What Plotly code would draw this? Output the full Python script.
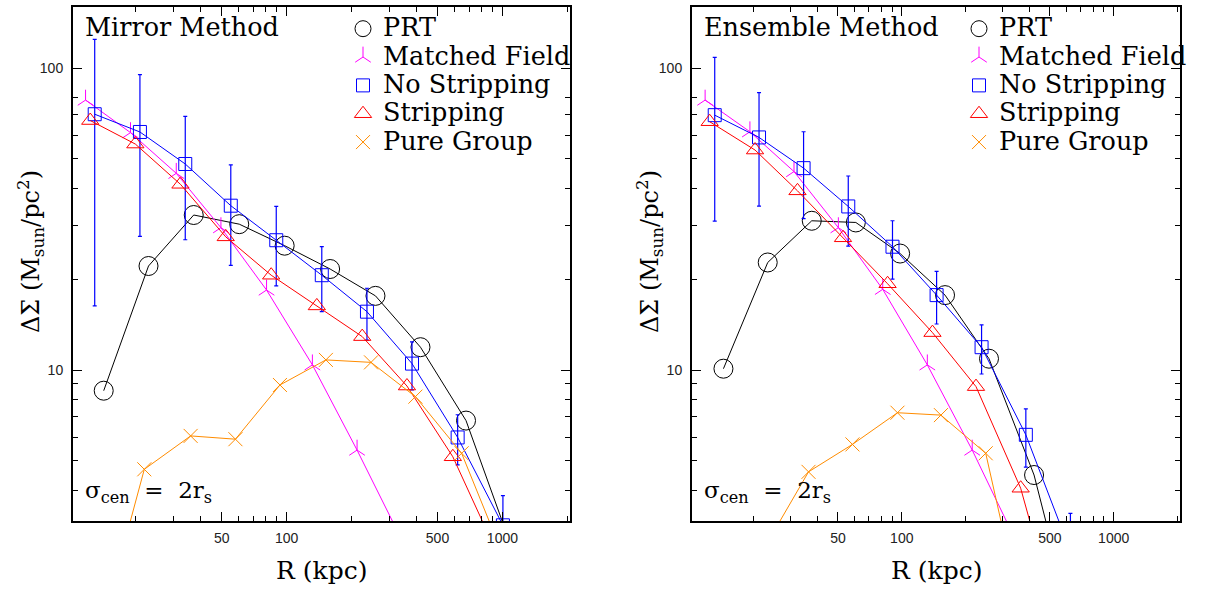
import plotly.graph_objects as go

# ---------------- data ----------------
# Left panel: Mirror Method
R_prt_L = [14.2, 22.9, 37.1, 60.3, 97.9, 159, 258, 417, 678, 1100]
prt_L   = [8.54, 22.1, 32.6, 30.4, 25.8, 21.6, 17.6, 11.9, 6.80, 2.6]

R_mf_L = [11.7, 18.9, 30.8, 49.6, 80.7, 131.6, 212, 345]
mf_L   = [78.3, 61.1, 44.8, 29.6, 18.4, 10.4, 5.43, 2.7]

R_ns_L   = [12.9, 20.9, 33.9, 55.1, 89.5, 145.5, 235.6, 381, 620, 1005]
ns_L     = [70.3, 61.4, 48.1, 35.0, 26.9, 20.6, 15.6, 10.5, 5.98, 3.06]
ns_err_L = [54.0, 33.7, 21.1, 12.8, 7.9, 5.0, 3.05, 1.9, 1.13, 0.78]

R_st_L = [12.3, 19.9, 32.2, 52.2, 84.8, 138, 224, 361, 589, 955]
st_L   = [67.0, 56.0, 41.2, 27.6, 20.6, 16.3, 12.9, 8.85, 5.16, 2.43]

R_pg_L = [13.5, 21.9, 35.9, 57.9, 93.1, 152, 246, 395, 647, 1050]
pg_L   = [1.3, 4.69, 6.05, 5.90, 8.92, 10.8, 10.6, 8.16, 5.30, 2.26]

# Right panel: Ensemble Method
R_prt_R = [14.4, 23.3, 37.6, 60.7, 98.2, 160, 258, 421, 680]
prt_R   = [10.1, 22.7, 31.2, 30.8, 24.3, 17.7, 10.9, 4.49, 1.2]

R_mf_R = [11.8, 19.2, 31.0, 50.2, 81.3, 132, 215, 349]
mf_R   = [78.3, 61.5, 45.4, 29.6, 18.5, 10.4, 5.43, 2.68]

R_ns_R   = [13.1, 21.2, 34.4, 55.9, 90.4, 146, 238, 385, 625]
ns_R     = [69.8, 58.9, 46.6, 34.8, 25.6, 17.7, 11.9, 6.10, 2.51]
ns_err_R = [38.7, 24.0, 14.9, 9.1, 5.6, 3.5, 2.2, 1.33, 0.84]

R_st_R = [12.4, 20.3, 32.2, 52.8, 85.7, 139.6, 224, 364, 590]
st_R   = [66.4, 53.5, 39.2, 27.4, 19.3, 13.3, 8.81, 4.06, 1.2]

R_pg_R = [22.5, 36.3, 58.5, 95.4, 153, 249, 404]
pg_R   = [2.58, 4.60, 5.67, 7.22, 7.09, 5.30, 1.17]

series_names = ["PRT", "Matched Field", "No Stripping", "Stripping", "Pure Group"]
panel_titles = ["Mirror Method", "Ensemble Method"]

x_major = [50, 100, 500, 1000]
x_major_text = ["50", "100", "500", "1000"]
x_minor = [20, 30, 40, 60, 70, 80, 90, 200, 300, 400, 600, 700, 800, 900, 2000]
y_major = [10, 100]
y_major_text = ["10", "100"]
y_minor = [4, 5, 6, 7, 8, 9, 20, 30, 40, 50, 60, 70, 80]

# ---------------- styles ----------------
BLACK, MAG, BLUE, RED, ORANGE = "#000000", "#ff00ff", "#0000ff", "#ff0000", "#ff8c00"
SERIF = "DejaVu Serif"
SANS = "Liberation Sans"
BIG = 25.5  # visible size of legend / panel texts

styles = [
    dict(color=BLACK, symbol="circle-open", size=19),
    dict(color=MAG, symbol="y-up-open", size=13),
    dict(color=BLUE, symbol="square-open", size=13),
    dict(color=RED, symbol="triangle-up-open", size=15),
    dict(color=ORANGE, symbol="x-thin-open", size=14),
]

fig = go.Figure()

panels = [
    ("x", "y", "legend",
     [(R_prt_L, prt_L, None), (R_mf_L, mf_L, None), (R_ns_L, ns_L, ns_err_L),
      (R_st_L, st_L, None), (R_pg_L, pg_L, None)]),
    ("x2", "y2", "legend2",
     [(R_prt_R, prt_R, None), (R_mf_R, mf_R, None), (R_ns_R, ns_R, ns_err_R),
      (R_st_R, st_R, None), (R_pg_R, pg_R, None)]),
]

for xa, ya, leg, data in panels:
    for (xs, ys, err), st, name in zip(data, styles, series_names):
        tr = dict(
            x=xs, y=ys, xaxis=xa, yaxis=ya, mode="lines+markers", name=name,
            showlegend=False,
            line=dict(color=st["color"], width=1),
            marker=dict(symbol=st["symbol"], size=st["size"], color=st["color"],
                        line=dict(color=st["color"], width=1)),
        )
        if err is not None:
            tr["error_y"] = dict(type="data", array=err, visible=True,
                                 color=st["color"], thickness=1.2, width=2)
        fig.add_trace(go.Scatter(**tr))
    # legend-only entries (symbols only, like the reference key)
    for st, name in zip(styles, series_names):
        fig.add_trace(go.Scatter(
            x=[None], y=[None], xaxis=xa, yaxis=ya, mode="markers",
            name=f'<span style="font-size:{BIG}px">{name}</span>',
            legend=leg, showlegend=True,
            marker=dict(symbol=st["symbol"], size=st["size"], color=st["color"],
                        line=dict(color=st["color"], width=1)),
        ))

W, H = 1209, 589
xdom = [[73 / W, 570 / W], [692 / W, 1180 / W]]
ydom = [1 - 521 / H, 1 - 7 / H]

def xaxis_cfg(dom, anchor):
    return dict(
        domain=dom, anchor=anchor, type="log", range=[1.01, 3.313],
        showline=True, linewidth=2, linecolor="black", mirror="allticks",
        showgrid=False, zeroline=False,
        tickmode="array", tickvals=x_major, ticktext=x_major_text,
        ticks="inside", ticklen=9, tickwidth=1, tickcolor="black",
        ticklabelstandoff=3,
        tickfont=dict(family=SANS, size=14, color="#222222"),
        minor=dict(tickmode="array", tickvals=x_minor, ticks="inside",
                   ticklen=5, tickwidth=1, tickcolor="black"),
    )

def yaxis_cfg(anchor):
    return dict(
        domain=ydom, anchor=anchor, type="log", range=[0.5, 2.202],
        showline=True, linewidth=2, linecolor="black", mirror="allticks",
        showgrid=False, zeroline=False,
        tickmode="array", tickvals=y_major, ticktext=y_major_text,
        ticks="inside", ticklen=9, tickwidth=1, tickcolor="black",
        ticklabelstandoff=5,
        tickfont=dict(family=SANS, size=14, color="#222222"),
        minor=dict(tickmode="array", tickvals=y_minor, ticks="inside",
                   ticklen=5, tickwidth=1, tickcolor="black"),
    )

# legend font size sets the row pitch (~28 px); the visible text size comes from the span
leg_common = dict(
    font=dict(family=SERIF, size=19.5, color="black"),
    bgcolor="rgba(0,0,0,0)", borderwidth=0, itemsizing="trace",
    xanchor="left", yanchor="top", tracegroupgap=0, itemwidth=30,
)

fig.update_layout(
    width=W, height=H, margin=dict(l=0, r=0, t=0, b=0),
    paper_bgcolor="white", plot_bgcolor="white",
    xaxis=xaxis_cfg(xdom[0], "y"),
    xaxis2=xaxis_cfg(xdom[1], "y2"),
    yaxis=yaxis_cfg("x"),
    yaxis2=yaxis_cfg("x2"),
    legend=dict(x=343 / W, y=1 - 9.5 / H, **leg_common),
    legend2=dict(x=959 / W, y=1 - 9.5 / H, **leg_common),
)

annots = []
for i, title in enumerate(panel_titles):
    x0 = xdom[i][0]
    annots.append(dict(text=title, xref="paper", yref="paper", x=x0 + 10 / W,
                       y=1 - 27 / H, xanchor="left", yanchor="middle", showarrow=False,
                       font=dict(family=SERIF, size=BIG, color="black")))
    annots.append(dict(text="σ<sub>cen</sub>  =  2r<sub>s</sub>", xref="paper", yref="paper",
                       x=x0 + 10 / W, y=1 - 492 / H, xanchor="left", yanchor="middle",
                       showarrow=False, font=dict(family=SERIF, size=23, color="black")))
    annots.append(dict(text="R (kpc)", xref="paper", yref="paper",
                       x=(xdom[i][0] + xdom[i][1]) / 2, y=1 - 570 / H,
                       xanchor="center", yanchor="middle", showarrow=False,
                       font=dict(family=SERIF, size=25, color="black")))
    annots.append(dict(text="ΔΣ (M<sub>sun</sub>/pc<sup>2</sup>)", xref="paper", yref="paper",
                       x=x0 - 43 / W, y=1 - 252 / H, xanchor="center", yanchor="middle",
                       textangle=-90, showarrow=False,
                       font=dict(family=SERIF, size=24, color="black")))
fig.update_layout(annotations=annots)

fig.write_html("out.html", config={"displayModeBar": False},
               post_script="document.body.style.margin='0px';")
